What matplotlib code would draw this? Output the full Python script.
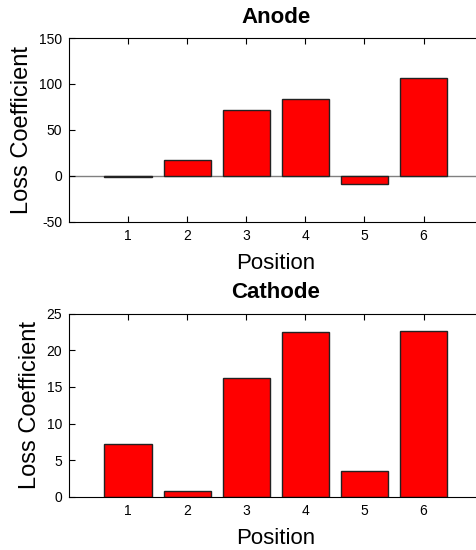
import matplotlib
matplotlib.use("Agg")
import matplotlib.pyplot as plt

positions = [1, 2, 3, 4, 5, 6]
anode_loss = [-1.5, 17, 72, 84, -9, 106]
cathode_loss = [7.2, 0.8, 16.2, 22.5, 3.6, 22.7]

plt.rcParams["font.family"] = ["Liberation Sans", "DejaVu Sans"]
plt.rcParams["axes.unicode_minus"] = False

fig = plt.figure(figsize=(4.76, 5.5), dpi=100)
ax_top = fig.add_axes([0.145, 0.5964, 0.869, 0.3345])
ax_bot = fig.add_axes([0.145, 0.0964, 0.869, 0.3333])


def style_axis(ax, title, ylim, yticks):
    ax.set_xlim(0, 7)
    ax.set_ylim(*ylim)
    ax.set_xticks(positions)
    ax.set_yticks(yticks)
    ax.tick_params(direction="in", top=True, right=True, length=4, width=0.8,
                   labelsize=10, pad=5)
    ax.set_title(title, fontsize=16, fontweight="bold", pad=11)
    ax.set_xlabel("Position", fontsize=16, labelpad=7)
    ax.set_ylabel("Loss Coefficient", fontsize=17, labelpad=4)
    for spine in ax.spines.values():
        spine.set_linewidth(0.8)


ax_top.axhline(0, color="#808080", linewidth=1.0, zorder=1)
ax_top.bar(positions, anode_loss, width=0.8, color="#ff0000",
           edgecolor="#222222", linewidth=1.0, zorder=2)
style_axis(ax_top, "Anode", (-50, 150), [-50, 0, 50, 100, 150])

ax_bot.bar(positions, cathode_loss, width=0.8, color="#ff0000",
           edgecolor="#222222", linewidth=1.0, zorder=2)
style_axis(ax_bot, "Cathode", (0, 25), [0, 5, 10, 15, 20, 25])

fig.savefig("out.png", dpi=100)
